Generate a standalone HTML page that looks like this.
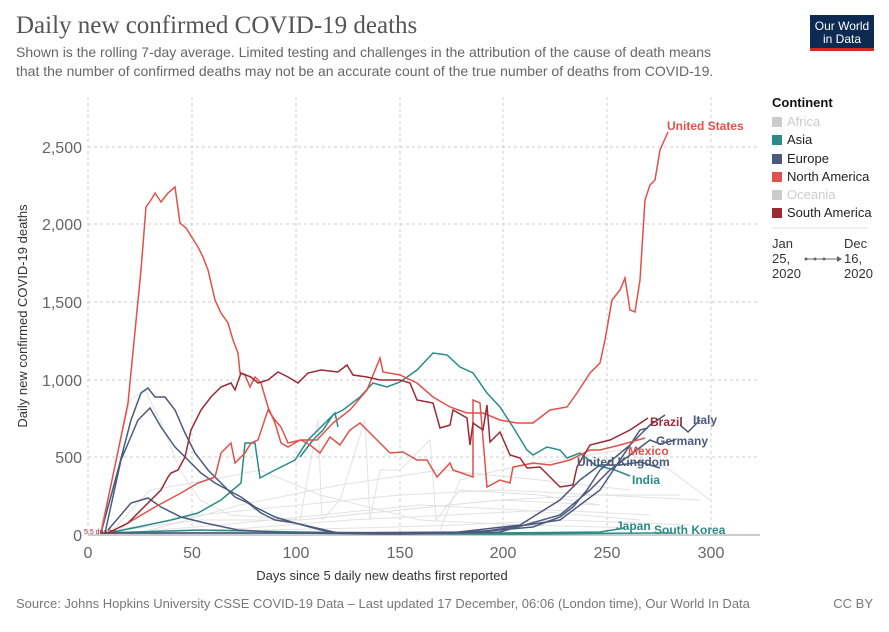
<!DOCTYPE html>
<html><head><meta charset="utf-8"><style>
body{margin:0;background:#fff;font-family:"Liberation Sans",sans-serif;}
svg text{font-family:"Liberation Sans",sans-serif;}
</style></head><body>
<svg width="889" height="627" viewBox="0 0 889 627" xmlns="http://www.w3.org/2000/svg">
<text x="16" y="33" font-size="25" fill="#555" style="font-family:'Liberation Serif',serif">Daily new confirmed COVID-19 deaths</text>
<text x="16" y="57" font-size="14" fill="#666">Shown is the rolling 7-day average. Limited testing and challenges in the attribution of the cause of death means</text>
<text x="16" y="76" font-size="14" fill="#666">that the number of confirmed deaths may not be an accurate count of the true number of deaths from COVID-19.</text>
<rect x="810" y="15" width="64" height="36" fill="#0c2a52"/>
<rect x="810" y="48" width="64" height="3" fill="#d42b21"/>
<text x="842" y="30" font-size="12" fill="#fff" text-anchor="middle">Our World</text>
<text x="842" y="43" font-size="12" fill="#fff" text-anchor="middle">in Data</text>
<g stroke="#ccc" stroke-dasharray="3,3" stroke-width="1">
<line x1="88" y1="457" x2="760" y2="457"/><line x1="88" y1="380" x2="760" y2="380"/>
<line x1="88" y1="302" x2="760" y2="302"/><line x1="88" y1="224" x2="760" y2="224"/>
<line x1="88" y1="147" x2="760" y2="147"/>
<line x1="192" y1="97" x2="192" y2="535"/><line x1="296" y1="97" x2="296" y2="535"/>
<line x1="400" y1="97" x2="400" y2="535"/><line x1="503" y1="97" x2="503" y2="535"/>
<line x1="607" y1="97" x2="607" y2="535"/><line x1="711" y1="97" x2="711" y2="535"/>
<line x1="88" y1="97" x2="88" y2="535"/>
</g>
<line x1="88" y1="535" x2="760" y2="535" stroke="#999"/>
<g font-size="16" fill="#666" text-anchor="end">
<text x="82" y="541">0</text><text x="82" y="463">500</text><text x="82" y="386">1,000</text>
<text x="82" y="308">1,500</text><text x="82" y="230">2,000</text><text x="82" y="153">2,500</text>
</g>
<g font-size="16" fill="#666" text-anchor="middle">
<text x="88" y="558">0</text><text x="192" y="558">50</text><text x="296" y="558">100</text>
<text x="400" y="558">150</text><text x="503" y="558">200</text><text x="607" y="558">250</text><text x="711" y="558">300</text>
</g>
<text x="382" y="580" font-size="13" fill="#333" text-anchor="middle">Days since 5 daily new deaths first reported</text>
<text transform="translate(27,316) rotate(-90)" font-size="13" fill="#333" text-anchor="middle">Daily new confirmed COVID-19 deaths</text>
<g fill="none" stroke="#e2e2e2" stroke-width="1">
<polyline points="100,532 130,400 145,390 160,420 180,470 200,500 230,515 300,520 400,510 500,500 600,495 700,500"/>
<polyline points="100,533 200,515 300,505 400,495 500,490 600,495 680,495"/>
<polyline points="100,533 200,520 300,520 400,510 500,500 600,505"/>
<polyline points="120,533 220,525 320,515 420,505 520,510 640,520"/>
<polyline points="110,533 150,490 210,480 260,470 320,495 420,520 520,525 640,528"/>
<polyline points="140,533 240,505 340,485 440,470 540,480 630,490"/>
<polyline points="130,534 250,528 350,520 450,515 550,510 650,515"/>
<polyline points="150,534 260,530 360,528 460,525 560,520 690,525"/>
<polyline points="300,520 318,420 322,520 340,500 365,420 370,520 380,470 400,470 430,440 436,520 460,490 540,495 600,505"/>
<polyline points="440,530 460,480 500,470 560,460 620,450 670,470 710,500"/>
</g>
<g fill="none" stroke="#2a8c87" stroke-width="1.5">
<polyline points="108,533 138,527 171,520 198,513 221,500 241,483 245,443 255,443 260,478 275,470 295,460 308,440 321,427 335,413 338,427"/>
<polyline points="300,457 313,440 323,430 333,415 343,410 360,397 373,383 387,387 400,382 417,370 433,353 447,355 460,367 473,373 487,393 500,407 513,427 527,450 533,455 547,447 560,450 567,458 580,453 595,465 615,470 630,476"/>
<polyline points="100,533 200,530 300,532 400,533 500,533 600,532 625,528"/>
<polyline points="100,533 300,533 500,534 650,533 672,533"/>
</g>
<g fill="none" stroke="#4b5a7c" stroke-width="1.5">
<polyline points="101,533 118,470 131,420 141,393 148,388 155,397 165,397 175,410 185,433 195,453 208,470 221,483 235,497 248,503 261,513 275,520 295,523 321,530 338,533 450,533 500,530 533,527 560,517 573,507 587,490 600,470 630,445 650,425 665,415"/>
<polyline points="105,533 121,460 138,420 150,408 161,427 175,447 188,460 201,473 215,483 228,490 241,497 255,507 275,517 295,523 338,533 450,533 520,525 560,500 580,480 600,465 620,465 640,462 660,468"/>
<polyline points="108,530 131,503 148,498 161,507 181,517 205,523 238,530 288,533 400,534 500,532 560,515 590,490 610,470 630,455 650,440 660,444 675,440"/>
<polyline points="100,533 200,533 300,533 480,532 560,520 600,490 640,430 648,428"/>
<polyline points="680,425 688,432 700,420"/>
</g>
<g fill="none" stroke="#e0514b" stroke-width="1.5">
<polyline points="101,533 128,403 141,270 146,207 151,200 155,193 161,202 168,193 175,187 180,223 186,228 198,247 203,257 208,270 215,300 221,313 228,323 233,340 238,353 240,373 245,375 250,387 255,377 261,383 268,407 275,423 281,443 288,447 300,440 317,440 333,423 350,410 367,390 380,358 383,372 400,375 417,383 433,397 450,407 467,413 483,413 500,420 517,423 533,423 550,410 567,407 577,393 590,373 600,363 605,340 612,300 620,290 625,278 630,310 635,312 640,280 645,200 650,185 655,180 660,150 668,132"/>
<polyline points="121,527 155,507 181,493 198,483 215,477 221,453 231,443 235,463 245,453 251,443 258,440 268,410 275,420 281,427 288,443 301,440 310,445 320,453 330,437 340,445 350,430 360,423 367,430 377,440 390,453 403,452 417,460 427,460 437,477 450,463 453,470 473,477 473,400 480,403 487,487 500,480 510,483 513,467 533,463 550,465 570,460 590,450 600,450 620,445 645,438"/>
</g>
<polyline fill="none" stroke="#9a2a34" stroke-width="1.5" points="108,533 128,523 148,503 161,490 168,477 171,473 178,470 185,457 191,430 201,410 211,397 221,387 231,383 235,390 241,373 251,377 258,383 268,380 278,372 288,377 298,383 308,373 321,370 338,372 347,365 353,375 367,377 380,380 400,380 410,383 417,400 433,403 440,428 450,425 453,410 467,418 470,445 473,423 483,430 487,405 490,442 500,432 510,455 520,458 527,468 540,467 560,487 573,485 577,467 590,445 610,440 630,430 648,418"/>
<g font-size="12" font-weight="bold">
<text x="667" y="130" fill="#e0514b">United States</text>
<text x="650" y="426" fill="#9a2a34">Brazil</text>
<text x="693" y="424" fill="#4b5a7c">Italy</text>
<text x="656" y="445" fill="#4b5a7c">Germany</text>
<text x="628" y="455" fill="#e0514b">Mexico</text>
<text x="577" y="466" fill="#4b5a7c">United Kingdom</text>
<text x="632" y="484" fill="#2a8c87">India</text>
<text x="616" y="530" fill="#2a8c87">Japan</text>
<text x="654" y="534" fill="#2a8c87">South Korea</text>
</g>
<text x="84" y="534" font-size="7" fill="#9a2a34">5.5 deaths</text>
<text x="772" y="107" font-size="13" font-weight="bold" fill="#111">Continent</text>
<g font-size="13">
<rect x="772" y="117" width="10" height="10" fill="#ccc"/><text x="787" y="126" fill="#ccc">Africa</text>
<rect x="772" y="135" width="10" height="10" fill="#2a8c87"/><text x="787" y="144" fill="#222">Asia</text>
<rect x="772" y="154" width="10" height="10" fill="#4b5a7c"/><text x="787" y="163" fill="#222">Europe</text>
<rect x="772" y="172" width="10" height="10" fill="#e0514b"/><text x="787" y="181" fill="#222">North America</text>
<rect x="772" y="190" width="10" height="10" fill="#ccc"/><text x="787" y="199" fill="#ccc">Oceania</text>
<rect x="772" y="208" width="10" height="10" fill="#9a2a34"/><text x="787" y="217" fill="#222">South America</text>
</g>
<line x1="772" y1="228" x2="868" y2="228" stroke="#ddd"/>
<g font-size="13" fill="#333">
<text x="772" y="248">Jan</text><text x="772" y="263">25,</text><text x="772" y="278">2020</text>
<text x="844" y="248">Dec</text><text x="844" y="263">16,</text><text x="844" y="278">2020</text>
</g>
<line x1="805" y1="259" x2="838" y2="259" stroke="#666"/>
<g fill="#666"><circle cx="806" cy="259" r="1.5"/><circle cx="815" cy="259" r="1.5"/><circle cx="824" cy="259" r="1.5"/><polygon points="837,256 842,259 837,262"/></g>
<text x="16" y="608" font-size="13" fill="#777">Source: Johns Hopkins University CSSE COVID-19 Data – Last updated 17 December, 06:06 (London time), Our World In Data</text>
<text x="873" y="608" font-size="13" fill="#777" text-anchor="end">CC BY</text>
</svg>
</body></html>
